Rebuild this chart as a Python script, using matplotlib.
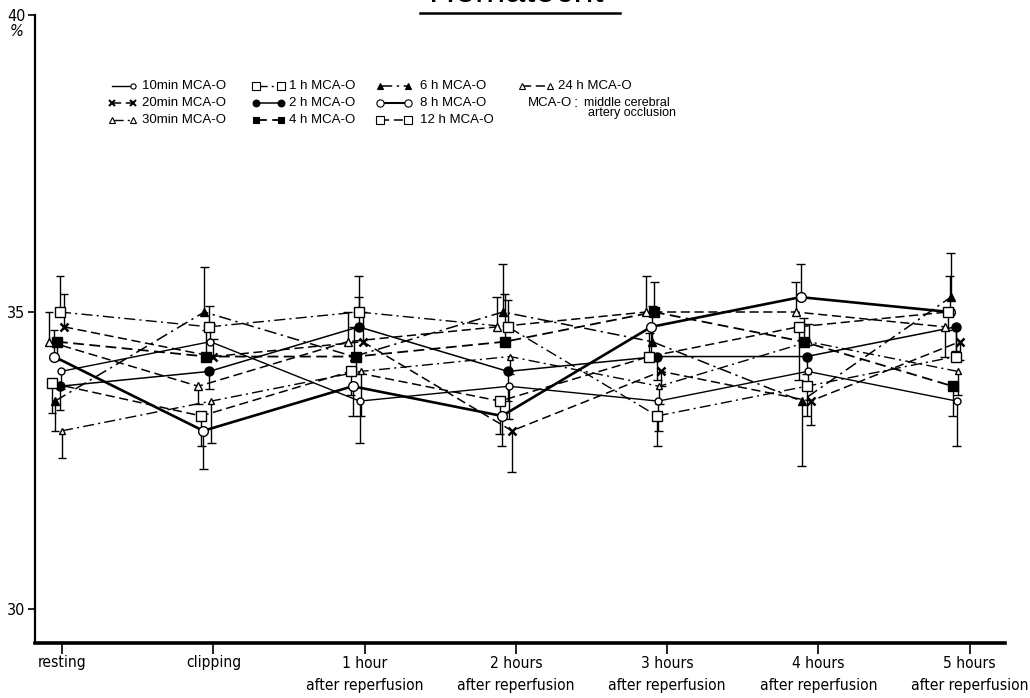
import numpy as np
import matplotlib
matplotlib.use("Agg")
import matplotlib.pyplot as plt
from matplotlib.lines import Line2D

# ---------------- data ----------------
stages = ["resting", "clipping",
          "1 hour\nafter reperfusion", "2 hours\nafter reperfusion",
          "3 hours\nafter reperfusion", "4 hours\nafter reperfusion",
          "5 hours\nafter reperfusion"]

# mean hematocrit (%) per occlusion group
hct_10min = [34.0, 34.5, 33.5, 33.75, 33.5, 34.0, 33.5]
hct_20min = [34.75, 34.25, 34.5, 33.0, 34.0, 33.5, 34.5]
hct_30min = [33.0, 33.5, 34.0, 34.25, 33.75, 34.5, 34.0]
hct_1h = [35.0, 34.75, 35.0, 34.75, 33.25, 33.75, 34.25]
hct_2h = [33.75, 34.0, 34.75, 34.0, 34.25, 34.25, 34.75]
hct_4h = [34.5, 34.25, 34.25, 34.5, 35.0, 34.5, 33.75]
hct_6h = [33.5, 35.0, 34.25, 35.0, 34.5, 33.5, 35.25]
hct_8h = [34.25, 33.0, 33.75, 33.25, 34.75, 35.25, 35.0]
hct_12h = [33.8, 33.25, 34.0, 33.5, 34.25, 34.75, 35.0]
hct_24h = [34.5, 33.75, 34.5, 34.75, 35.0, 35.0, 34.75]

# standard errors (sign gives the side the bar is drawn on)
se_10min = [-0.3, 0.3, -0.7, -0.55, -0.5, -0.25, -0.75]
se_20min = [0.55, 0.3, 0.5, -0.7, -0.25, -0.4, -0.3]
se_30min = [-0.45, -0.7, -0.75, -0.3, -0.3, 0.3, -0.4]
se_1h = [0.6, 0.35, 0.6, 0.45, -0.5, -0.5, 0.5]
se_2h = [-0.4, -0.3, 0.5, -0.5, -0.4, -0.3, -0.4]
se_4h = [-0.3, 0.45, -0.3, 0.8, 0.5, 0.4, -0.5]
se_6h = [-0.5, 0.75, 0.5, 0.8, 0.6, -1.1, 0.75]
se_8h = [0.45, -0.65, -0.5, -0.5, -0.5, 0.55, 0.6]
se_12h = [-0.5, -0.5, -0.4, -0.55, 0.4, -0.9, -0.3]
se_24h = [0.5, -0.3, 0.5, 0.5, 0.6, 0.5, -0.5]

groups = ["10min", "20min", "30min", "1 h", "2 h", "4 h", "6 h", "8 h", "12 h", "24 h"]
means = [hct_10min, hct_20min, hct_30min, hct_1h, hct_2h, hct_4h, hct_6h,
         hct_8h, hct_12h, hct_24h]
errors = [se_10min, se_20min, se_30min, se_1h, se_2h, se_4h, se_6h,
          se_8h, se_12h, se_24h]

# ---------------- styles ----------------
DASH = (0, (6, 3))
DASHDOT = (0, (8, 3, 1.5, 3))
styles = {
    "10min": dict(ls="-", lw=1.0, marker="o", ms=5.0, mfc="white", dx=4),
    "20min": dict(ls=DASH, lw=1.1, marker="x", ms=6.0, mfc="black", dx=7, mew=1.8),
    "30min": dict(ls=DASHDOT, lw=1.0, marker="^", ms=5.0, mfc="white", dx=5),
    "1 h":   dict(ls=DASHDOT, lw=1.0, marker="s", ms=7.0, mfc="white", dx=3),
    "2 h":   dict(ls="-", lw=1.1, marker="o", ms=6.5, mfc="black", dx=3),
    "4 h":   dict(ls=DASH, lw=1.3, marker="s", ms=6.5, mfc="black", dx=0),
    "6 h":   dict(ls=DASHDOT, lw=1.1, marker="^", ms=5.5, mfc="black", dx=-2),
    "8 h":   dict(ls="-", lw=1.9, marker="o", ms=7.0, mfc="white", dx=-3),
    "12 h":  dict(ls=DASH, lw=1.1, marker="s", ms=7.0, mfc="white", dx=-5),
    "24 h":  dict(ls=DASH, lw=1.1, marker="^", ms=5.5, mfc="white", dx=-8),
}

NARROW = ["DejaVu Sans"]
SANS = ["Liberation Sans", "DejaVu Sans"]

W, H = 1030, 698
fig = plt.figure(figsize=(W / 100, H / 100), dpi=100)
fig.patch.set_facecolor("white")

def fx(px):
    return px / W

def fy(py):
    return 1 - py / H

# axes box
ax_left, ax_right, ax_top, ax_bottom = 35, 1005, 15, 643
ax = fig.add_axes([fx(ax_left), fy(ax_bottom), fx(ax_right - ax_left),
                   (ax_bottom - ax_top) / H])
step_px = 149.3          # pixels between measurement stages
first_px = 57            # centre of the first cluster
ax.set_xlim((ax_left - first_px) / step_px, (ax_right - first_px) / step_px)
unit_px = 59.4
ax.set_ylim(40 - (ax_bottom - ax_top) / unit_px, 40)

for s in ("top", "right"):
    ax.spines[s].set_visible(False)
ax.spines["left"].set_linewidth(1.6)
ax.spines["bottom"].set_linewidth(2.6)

ax.set_yticks([30, 35, 40])
ax.set_yticklabels(["30", "35", "40"], fontfamily=NARROW, fontsize=11.5,
                   fontstretch="condensed")
ax.tick_params(axis="y", direction="out", length=5, width=1.2, pad=2)

idx = np.arange(len(stages))
tick_pos = idx * 1.013 + 0.035
ax.set_xticks(tick_pos)
ax.set_xticklabels(stages, fontfamily=NARROW, fontsize=11.2, linespacing=1.6,
                   fontstretch="condensed")
ax.tick_params(axis="x", direction="out", length=8, width=1.2, pad=1)

# ---------------- series ----------------
cap = 0.03
for name, vals, errs in zip(groups, means, errors):
    st = styles[name]
    x = idx + st["dx"] / step_px
    vals = np.asarray(vals)
    errs = np.asarray(errs)
    ends = vals + errs
    ax.vlines(x, vals, ends, colors="black", lw=1.0, zorder=2)
    ax.hlines(ends, x - cap, x + cap, colors="black", lw=1.0, zorder=2)
    ax.plot(x, vals, color="black", linestyle=st["ls"], lw=st["lw"], zorder=3)
    ax.plot(x, vals, linestyle="none", marker=st["marker"], ms=st["ms"],
            mfc=st["mfc"], mec="black", mew=st.get("mew", 1.0), zorder=4)

# ---------------- legend ----------------
legend_cells = [
    ("10min", 112, 133, 86, "10min MCA-O", 142),
    ("20min", 112, 133, 103, "20min MCA-O", 142),
    ("30min", 112, 133, 120, "30min MCA-O", 142),
    ("1 h", 256, 281, 86, "1 h MCA-O", 289),
    ("2 h", 256, 281, 103, "2 h MCA-O", 289),
    ("4 h", 256, 281, 120, "4 h MCA-O", 289),
    ("6 h", 380, 408, 86, "6 h MCA-O", 420),
    ("8 h", 380, 408, 103, "8 h MCA-O", 420),
    ("12 h", 380, 408, 120, "12 h MCA-O", 420),
    ("24 h", 522, 550, 86, "24 h MCA-O", 558),
]
for name, x0, x1, y, label, tx in legend_cells:
    st = styles[name]
    fig.add_artist(Line2D([fx(x0), fx(x1)], [fy(y), fy(y)], transform=fig.transFigure,
                          color="black", linestyle=st["ls"], lw=min(st["lw"], 1.5)))
    xs = [fx(x1)] if name == "10min" else [fx(x0), fx(x1)]
    fig.add_artist(Line2D(xs, [fy(y)] * len(xs), transform=fig.transFigure,
                          linestyle="none", marker=st["marker"],
                          ms=st["ms"] * 0.75, mfc=st["mfc"], mec="black",
                          mew=st.get("mew", 1.0) * 0.8))
    fig.text(fx(tx), fy(y), label, fontfamily=SANS, fontsize=9.5,
             ha="left", va="center")

fig.text(fx(528), fy(103), "MCA-O", fontfamily=SANS, fontsize=9.5, ha="left", va="center")
fig.text(fx(576), fy(103), ":", fontfamily=SANS, fontsize=11, ha="center", va="center")
fig.text(fx(584), fy(103), "middle cerebral", fontfamily=SANS, fontsize=9,
         ha="left", va="center")
fig.text(fx(588), fy(113), "artery occlusion", fontfamily=SANS, fontsize=9,
         ha="left", va="center")

# ---------------- title & unit ----------------
fig.text(fx(516), fy(2), "Hematocrit", fontfamily=SANS, fontsize=26,
         ha="center", va="baseline")
fig.add_artist(Line2D([fx(420), fx(620)], [fy(12.5), fy(12.5)],
                      transform=fig.transFigure, color="black", lw=1.8))
fig.text(fx(17), fy(31), "%", fontfamily=NARROW, fontsize=10.5, style="italic",
         ha="center", va="center")

fig.savefig("out.png", dpi=100, facecolor="white")
